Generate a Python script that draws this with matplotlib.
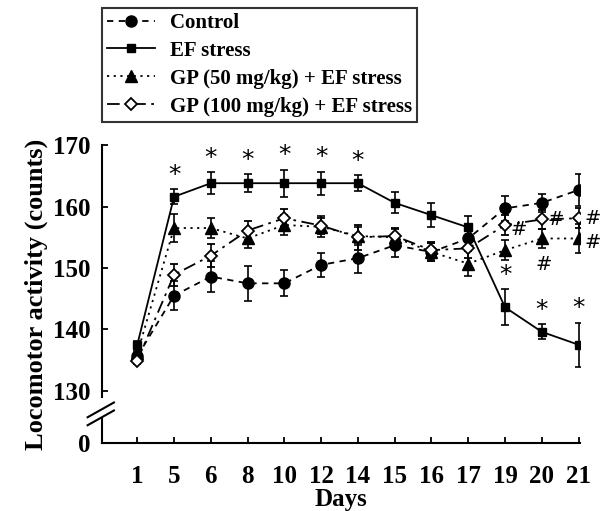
import matplotlib
matplotlib.use("Agg")
import matplotlib.pyplot as plt
import matplotlib.transforms as mtransforms
from matplotlib.lines import Line2D

days = ["1", "5", "6", "8", "10", "12", "14", "15", "16", "17", "19", "20", "21"]

control = [135.6, 145.5, 148.6, 147.5, 147.5, 150.5, 151.6, 153.7, 152.6, 154.8, 159.7, 160.6, 162.7]
control_err = [0.8, 2.4, 2.5, 2.9, 2.1, 1.9, 2.4, 1.9, 1.5, 1.9, 2.0, 1.5, 2.6]

ef = [137.5, 161.6, 163.8, 163.8, 163.8, 163.8, 163.8, 160.6, 158.6, 156.6, 143.6, 139.6, 137.5]
ef_err = [0.6, 1.2, 1.8, 1.5, 2.2, 1.9, 1.3, 1.7, 1.9, 1.8, 2.9, 1.2, 3.6]

gp50 = [136.1, 156.5, 156.5, 154.8, 157.0, 156.7, 155.2, 155.0, 152.6, 150.7, 152.9, 154.8, 154.8]
gp50_err = [0.6, 2.3, 1.6, 1.6, 1.7, 1.7, 1.5, 1.3, 1.5, 2.0, 1.6, 1.6, 2.4]

gp100 = [134.9, 148.9, 152.0, 156.1, 158.1, 156.9, 155.0, 155.2, 152.9, 153.2, 157.0, 157.9, 158.1]
gp100_err = [0.6, 1.8, 1.9, 1.6, 1.5, 1.3, 2.0, 1.3, 1.4, 1.5, 1.6, 1.6, 1.6]

labels = ['Control', 'EF stress', 'GP (50 mg/kg) + EF stress', 'GP (100 mg/kg) + EF stress']

# significance marks
star_days = [1, 2, 3, 4, 5, 6, 10, 11, 12]
hash_marks = [(10, 157.0, 0.38, -0.8), (11, 157.9, 0.38, 0.0), (12, 158.1, 0.38, 0.0),
              (11, 154.8, 0.05, -4.2), (12, 154.8, 0.38, -0.7)]

plt.rcParams['font.family'] = ['Liberation Serif', 'DejaVu Serif']
plt.rcParams['font.weight'] = 'bold'

fig = plt.figure(figsize=(6.07, 5.11), dpi=100)
ax = fig.add_axes([0.168, 0.133, 0.787, 0.583])

x = list(range(len(days)))
Y0 = 121.5  # where "0" sits below the break

styles = [
    dict(marker='o', markersize=8, linestyle=(0, (3.5, 3))),
    dict(marker='s', markersize=6, linestyle='-'),
    dict(marker='^', markersize=8, linestyle=(0, (1.2, 2.5))),
    dict(marker='D', markersize=6.5, markerfacecolor='white', markeredgewidth=1.3,
         linestyle=(0, (7, 3, 1.5, 3))),
]
series = [(control, control_err), (ef, ef_err), (gp50, gp50_err), (gp100, gp100_err)]

handles = []
for (vals, errs), st, lab in zip(series, styles, labels):
    ax.errorbar(x, vals, yerr=errs, color='black', capsize=3, elinewidth=1.2,
                capthick=1.2, linewidth=1.3, **st)
    handles.append(Line2D([], [], color='black', linewidth=1.3, label=lab, **st))

for i in star_days:
    ax.text(x[i], ef[i] + ef_err[i] + 0.4, '*', ha='center', va='bottom',
            fontsize=18, family='DejaVu Sans', fontweight='normal')
for i, v, dx, dy in hash_marks:
    ax.text(x[i] + dx, v + dy, '#', ha='center', va='center',
            fontsize=14, family='DejaVu Sans', fontweight='normal')

ax.set_xlim(-0.96, 12.03)
ax.set_ylim(Y0, 170)
ax.set_xticks(x)
ax.set_xticklabels(days)
ax.set_yticks([Y0, 130, 140, 150, 160, 170])
ax.set_yticklabels(['0', '130', '140', '150', '160', '170'])
ax.tick_params(axis='both', direction='in', length=4, width=1.3, labelsize=18)
ax.tick_params(axis='x', pad=16)
ax.tick_params(axis='y', pad=8)
for t in ax.get_xticklabels() + ax.get_yticklabels():
    t.set_fontweight('bold')

for s in ['top', 'right', 'left']:
    ax.spines[s].set_visible(False)
ax.spines['bottom'].set_linewidth(1.5)

# left spine with break
tr = mtransforms.blended_transform_factory(ax.transAxes, ax.transData)
ax.plot([0, 0], [Y0, 125.4], color='black', lw=1.5, transform=tr, clip_on=False)
ax.plot([0, 0], [129.0, 170], color='black', lw=1.5, transform=tr, clip_on=False)
for yc in [125.6, 126.9]:
    ax.plot([-0.03, 0.025], [yc - 1.2, yc + 1.2], color='black', lw=1.5,
            transform=tr, clip_on=False)

ax.set_xlabel('Days', fontsize=18, fontweight='bold', labelpad=0)
ax.set_ylabel('Locomotor activity (counts)', fontsize=19, fontweight='bold', labelpad=4)

leg = fig.legend(handles=handles, loc='upper left', bbox_to_anchor=(0.168, 0.985),
                 fontsize=15, numpoints=1, frameon=True, fancybox=False,
                 edgecolor='black', handlelength=2.3, handletextpad=0.7,
                 borderpad=0.25, borderaxespad=0, labelspacing=0.38)
leg.get_frame().set_linewidth(1.5)
for t in leg.get_texts():
    t.set_fontweight('bold')

fig.savefig('out.png', dpi=100)
